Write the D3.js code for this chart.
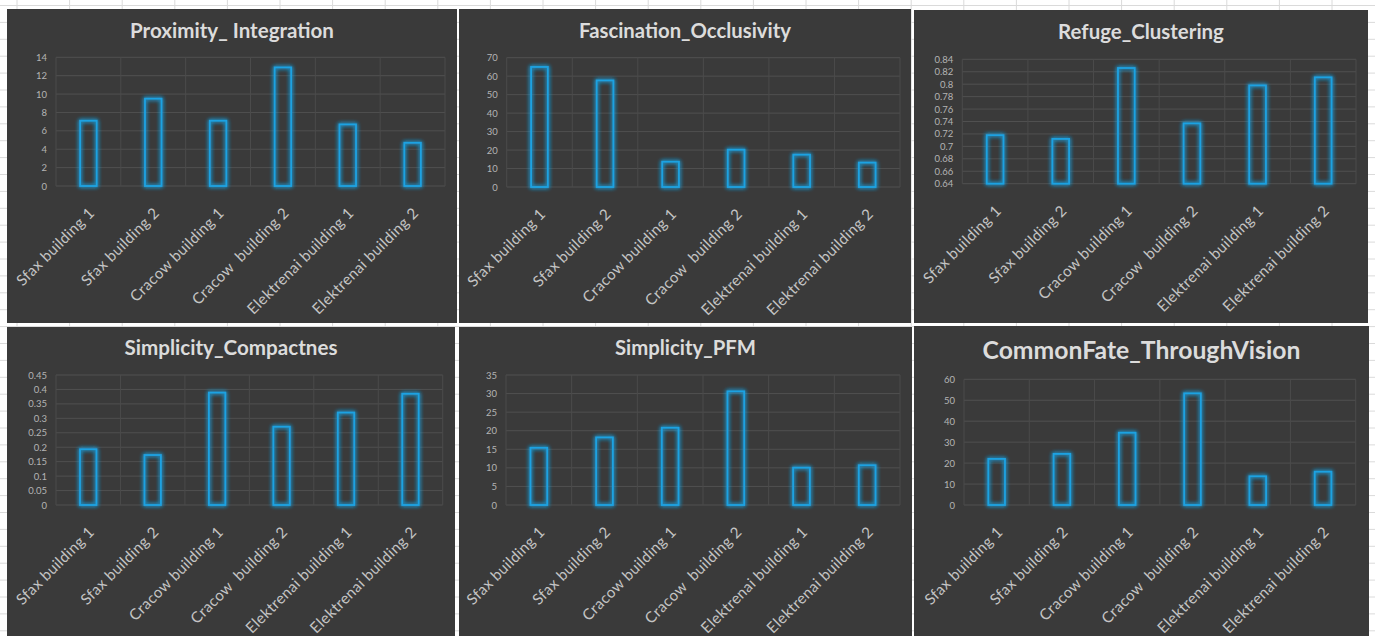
<!DOCTYPE html>
<html>
<head>
<meta charset="utf-8">
<script src="https://cdn.jsdelivr.net/npm/d3@7"></script>
<style>
  html, body { margin: 0; padding: 0; background: #ffffff; }
  svg { display: block; }
  text { font-family: Lato, "Open Sans", sans-serif; }
</style>
</head>
<body>
<svg id="chart" width="1375" height="636"></svg>
<script>
// Building names shared by every chart
const categories = [
  "Sfax building 1", "Sfax building 2", "Cracow building 1",
  "Cracow  building 2", "Elektrenai building 1", "Elektrenai building 2"
];

// Chart titles
const titles = [
  "Proximity_ Integration", "Fascination_Occlusivity", "Refuge_Clustering",
  "Simplicity_Compactnes", "Simplicity_PFM", "CommonFate_ThroughVision"
];

// Measured values per building
const proximityIntegration    = [7.1, 9.5, 7.1, 12.9, 6.7, 4.7];
const fascinationOcclusivity  = [65, 57.7, 13.7, 20.2, 17.5, 13.2];
const refugeClustering        = [0.718, 0.712, 0.826, 0.737, 0.798, 0.811];
const simplicityCompactnes    = [0.193, 0.173, 0.389, 0.271, 0.320, 0.385];
const simplicityPFM           = [15.4, 18.2, 20.8, 30.6, 10.05, 10.7];
const commonFateThroughVision = [22.0, 24.4, 34.5, 53.3, 13.7, 15.9];

// Value-axis tick labels
const ticksProximity   = [0, 2, 4, 6, 8, 10, 12, 14];
const ticksFascination = [0, 10, 20, 30, 40, 50, 60, 70];
const ticksRefuge      = [0.64, 0.66, 0.68, 0.7, 0.72, 0.74, 0.76, 0.78, 0.8, 0.82, 0.84];
const ticksCompact     = [0, 0.05, 0.1, 0.15, 0.2, 0.25, 0.3, 0.35, 0.4, 0.45];
const ticksPFM         = [0, 5, 10, 15, 20, 25, 30, 35];
const ticksCommonFate  = [0, 10, 20, 30, 40, 50, 60];

const seriesList = [proximityIntegration, fascinationOcclusivity, refugeClustering,
                    simplicityCompactnes, simplicityPFM, commonFateThroughVision];
const tickList = [ticksProximity, ticksFascination, ticksRefuge,
                  ticksCompact, ticksPFM, ticksCommonFate];

// Panel frames, plot areas and title sizing (page coordinates)
const layout = [
  { x: 7,   y: 9,   w: 450, h: 314, l: 56,    r: 445,    t: 57.3,  b: 186,   ty: 37.5,  tw: 204 },
  { x: 459, y: 9,   w: 452, h: 314, l: 506.7, r: 900,    t: 57.7,  b: 187,   ty: 38,    tw: 212 },
  { x: 914, y: 10,  w: 454, h: 313, l: 962.3, r: 1356,   t: 59.3,  b: 183.7, ty: 39,    tw: 166 },
  { x: 7,   y: 327, w: 448, h: 309, l: 56,    r: 442.7,  t: 375,   b: 505,   ty: 355.3, tw: 213 },
  { x: 459, y: 327, w: 453, h: 309, l: 506,   r: 900,    t: 375,   b: 505,   ty: 355.3, tw: 141 },
  { x: 914, y: 326, w: 455, h: 310, l: 964,   r: 1355.7, t: 379.3, b: 505,   ty: 358.7, tw: 318 }
];

const svg = d3.select("#chart");
const defs = svg.append("defs");

// Blue glow around the bar outlines
const glow = defs.append("filter").attr("id", "glow")
  .attr("x", "-60%").attr("y", "-20%").attr("width", "220%").attr("height", "140%");
glow.append("feGaussianBlur").attr("in", "SourceGraphic").attr("stdDeviation", 2.2).attr("result", "blur");
const merge = glow.append("feMerge");
merge.append("feMergeNode").attr("in", "blur");
merge.append("feMergeNode").attr("in", "blur");
merge.append("feMergeNode").attr("in", "SourceGraphic");

// Worksheet backdrop: white cells with light gridlines
const sheet = svg.append("g");
sheet.append("rect").attr("width", 1375).attr("height", 636).attr("fill", "#ffffff");
d3.range(0, 27).forEach(k => {
  sheet.append("line").attr("x1", 17 + k * 52.6).attr("x2", 17 + k * 52.6)
    .attr("y1", 0).attr("y2", 636).attr("stroke", "#dadada").attr("stroke-width", 1);
});
d3.range(0, 38).forEach(k => {
  sheet.append("line").attr("x1", 0).attr("x2", 1375)
    .attr("y1", 5.5 + k * 16.9).attr("y2", 5.5 + k * 16.9)
    .attr("stroke", "#dadada").attr("stroke-width", 1);
});

const fmt = d => String(Math.round(d * 100) / 100);

layout.forEach((p, i) => {
  const values = seriesList[i];
  const ticks = tickList[i];

  const clipId = "clip" + i;
  defs.append("clipPath").attr("id", clipId)
    .append("rect").attr("x", p.x).attr("y", p.y).attr("width", p.w).attr("height", p.h);

  const g = svg.append("g").attr("clip-path", `url(#${clipId})`);

  g.append("rect").attr("x", p.x).attr("y", p.y).attr("width", p.w).attr("height", p.h)
    .attr("fill", "#3a3a3a");

  const x = d3.scaleBand().domain(categories).range([p.l, p.r]).padding(0);
  const y = d3.scaleLinear().domain([ticks[0], ticks[ticks.length - 1]]).range([p.b, p.t]);

  // horizontal gridlines
  g.append("g").selectAll("line").data(ticks).join("line")
    .attr("x1", p.l).attr("x2", p.r)
    .attr("y1", d => y(d)).attr("y2", d => y(d))
    .attr("stroke", "#505050").attr("stroke-width", 1);

  // vertical gridlines at category boundaries
  const bounds = categories.map(c => x(c)).concat([p.r]);
  g.append("g").selectAll("line").data(bounds).join("line")
    .attr("x1", d => d).attr("x2", d => d)
    .attr("y1", p.t).attr("y2", p.b)
    .attr("stroke", "#4b4b4b").attr("stroke-width", 1);

  // value axis
  const yAxis = g.append("g").attr("transform", `translate(${p.l},0)`)
    .call(d3.axisLeft(y).tickValues(ticks).tickFormat(fmt).tickSize(0).tickPadding(9));
  yAxis.select(".domain").remove();
  yAxis.attr("font-family", null).attr("font-size", null);
  yAxis.selectAll("text")
    .attr("fill", "#b4b4b4")
    .style("font-size", "9.5px")
    .style("font-family", "Lato, sans-serif");

  // category axis with slanted labels
  const xAxis = g.append("g").attr("transform", `translate(0,${p.b})`)
    .call(d3.axisBottom(x).tickSize(0));
  xAxis.select(".domain").remove();
  xAxis.attr("font-family", null).attr("font-size", null);
  xAxis.selectAll("text")
    .attr("x", 0).attr("y", 0).attr("dy", 0)
    .attr("text-anchor", "end")
    .attr("transform", "translate(7,28) rotate(-45)")
    .attr("fill", "#c4c4c4")
    .style("font-size", "15.2px")
    .style("letter-spacing", "0.35px")
    .style("font-family", "Lato, sans-serif")
    .style("white-space", "pre");

  // outlined bars with glow
  const bw = x.bandwidth() * 0.255;
  g.append("g").selectAll("rect").data(values).join("rect")
    .attr("x", (d, j) => x(categories[j]) + x.bandwidth() / 2 - bw / 2)
    .attr("y", d => y(d))
    .attr("width", bw)
    .attr("height", d => y(ticks[0]) - y(d))
    .attr("fill", "none")
    .attr("stroke", "#1fa2e2")
    .attr("stroke-width", 1.8)
    .attr("filter", "url(#glow)");

  // chart title, sized to its box width
  const title = g.append("text")
    .attr("x", p.x + p.w / 2).attr("y", p.ty)
    .attr("text-anchor", "middle")
    .attr("font-weight", 700)
    .attr("fill", "#dcdcdc")
    .style("font-size", "20px")
    .text(titles[i]);
  const len = title.node().getComputedTextLength();
  title.style("font-size", (20 * p.tw / len).toFixed(2) + "px");
});
</script>
</body>
</html>
